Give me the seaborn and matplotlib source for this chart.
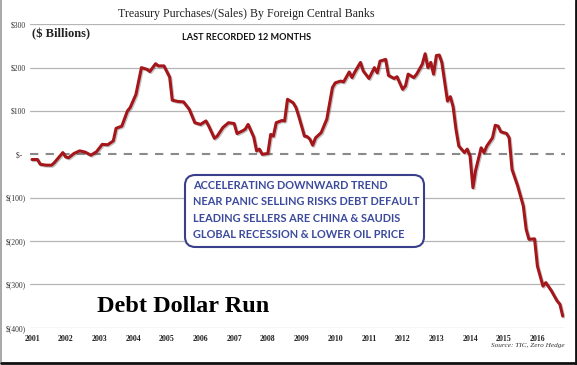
import matplotlib
matplotlib.use("Agg")
import matplotlib.pyplot as plt
import matplotlib.patheffects as pe
from matplotlib.patches import FancyBboxPatch
from matplotlib.lines import Line2D
import pandas as pd
import seaborn as sns

# ---- data ----
months = [
    "2001-01", "2001-03", "2001-04", "2001-06", "2001-08", "2001-09", "2001-12",
    "2002-01", "2002-02", "2002-04", "2002-06", "2002-08", "2002-10", "2002-12",
    "2003-02", "2003-04", "2003-06", "2003-07", "2003-09", "2003-11", "2003-12",
    "2004-02", "2004-04", "2004-06", "2004-07", "2004-09", "2004-10", "2004-12",
    "2005-02", "2005-03", "2005-05", "2005-07", "2005-09", "2005-11",
    "2006-01", "2006-03", "2006-04", "2006-06", "2006-07", "2006-09", "2006-11",
    "2007-01", "2007-02", "2007-04", "2007-05", "2007-06", "2007-08", "2007-09",
    "2007-10", "2007-11",
    "2008-01", "2008-02", "2008-03", "2008-04", "2008-06", "2008-07", "2008-08",
    "2008-10", "2008-11", "2008-12",
    "2009-02", "2009-03", "2009-04", "2009-05", "2009-06", "2009-08", "2009-10",
    "2009-12",
    "2010-01", "2010-03", "2010-04", "2010-06", "2010-07", "2010-08", "2010-10",
    "2010-11",
    "2011-01", "2011-03", "2011-04", "2011-05", "2011-07", "2011-08", "2011-10",
    "2011-11",
    "2012-01", "2012-02", "2012-03", "2012-05", "2012-06", "2012-08", "2012-09",
    "2012-10", "2012-11", "2012-12",
    "2013-01", "2013-02", "2013-03", "2013-05", "2013-06", "2013-07", "2013-08",
    "2013-09", "2013-11", "2013-12",
    "2014-01", "2014-02", "2014-03", "2014-05", "2014-06", "2014-07", "2014-09",
    "2014-10", "2014-11", "2014-12",
    "2015-02", "2015-03", "2015-04", "2015-06", "2015-08", "2015-09", "2015-10",
    "2015-12",
    "2016-01", "2016-03", "2016-04", "2016-06", "2016-08", "2016-09", "2016-10",
]
purchases = [
    -12, -12, -23, -25, -25, -19, 4,
    -6, -8, 2, 8, 5, -2, 6,
    23, 22, 31, 60, 65, 100, 108,
    138, 200, 196, 191, 209, 204, 204,
    178, 125, 122, 121, 104, 73,
    69, 77, 65, 37, 42, 62, 73,
    71, 48, 54, 58, 69, 40, 8,
    12, 0,
    2, 46, 42, 73, 78, 77, 127,
    119, 108, 88,
    42, 41, 35, 21, 38, 50, 81,
    154,
    165, 169, 167, 190, 177, 190, 212,
    192,
    175, 200, 188, 215, 219, 182, 175,
    179,
    150, 158, 185, 177, 185, 208, 232,
    200, 212, 185,
    228, 229, 212, 123, 133, 110, 58,
    19, 4, 12,
    -4, -77, -38, 15, 4, 19, 38,
    67, 65, 52,
    48, 38, -35, -73, -119, -173, -196,
    -195,
    -258, -304, -296, -315, -338, -346, -373,
]
year_labels = [str(y) for y in range(2001, 2017)]
y_ticks = [300, 200, 100, 0, -100, -200, -300, -400]
y_tick_labels = ["$300", "$200", "$100", "$-  ", "$(100)", "$(200)", "$(300)", "$(400)"]
box_lines = [
    "ACCELERATING DOWNWARD TREND",
    "NEAR PANIC SELLING RISKS DEBT DEFAULT",
    "LEADING SELLERS ARE CHINA & SAUDIS",
    "GLOBAL RECESSION & LOWER OIL PRICE",
]

df = pd.DataFrame({"date": pd.to_datetime(months), "value": purchases})

sns.set_style("white")
SERIF = ["Liberation Serif", "DejaVu Serif"]
NARROW = ["Lato", "DejaVu Sans"]
plt.rcParams["font.family"] = SERIF

W, H = 577, 365
fig = plt.figure(figsize=(W / 100, H / 100), dpi=100)
fig.patch.set_facecolor("white")


def fx(x):
    return x / W


def fy(y):
    return 1 - y / H


ax = fig.add_axes([fx(30), fy(327.7), fx(565) - fx(30), fy(24.3) - fy(327.7)])
ax.set_facecolor("white")

# grid lines
for v in y_ticks:
    if v == 0:
        ax.axhline(0, color="#8a8a8a", lw=1.5, ls=(0, (4, 3.5)), zorder=1)
    else:
        ax.axhline(v, color="#b5b5b5", lw=0.9, zorder=1)

sns.lineplot(data=df, x="date", y="value", ax=ax, color="#a5161b", lw=2.2,
             zorder=3, estimator=None,
             path_effects=[pe.SimpleLineShadow(offset=(0.8, -0.8), shadow_color="#555555", alpha=0.35),
                           pe.Normal()])

ax.set_ylim(-400, 300)
ax.set_xlim(pd.Timestamp("2000-12-10"), pd.Timestamp("2016-10-26"))
ax.set_yticks(y_ticks)
ax.set_yticklabels(y_tick_labels, fontsize=5.5, color="#333333")
ax.set_xticks([pd.Timestamp(f"{y}-01-01") for y in range(2001, 2017)])
ax.set_xticklabels(year_labels, fontsize=5.7, fontweight="bold", color="#222222")
ax.tick_params(axis="both", length=0, pad=3)
ax.tick_params(axis="x", pad=5)
ax.set_xlabel("")
ax.set_ylabel("")
for s in ax.spines.values():
    s.set_visible(False)

# text box
box = FancyBboxPatch((fx(185), fy(247)), fx(424) - fx(185), fy(175) - fy(247),
                     boxstyle="round,pad=0,rounding_size=0.018",
                     transform=fig.transFigure, fc="white", ec="#3a3f8c", lw=1.5,
                     zorder=5, mutation_aspect=W / H)
fig.add_artist(box)
for i, (txt, yy) in enumerate(zip(box_lines, [185.5, 202, 218, 234])):
    fig.text(fx(193), fy(yy), txt, family=NARROW, fontsize=7.9, fontweight="bold",
             color="#3b4a9c", va="center", ha="left", zorder=6)

# titles and annotations
fig.text(fx(246), fy(14), "Treasury Purchases/(Sales) By Foreign Central Banks",
         fontsize=8.6, ha="center", va="center", color="#222222")
fig.text(fx(32), fy(34), "($ Billions)", fontsize=9, fontweight="bold",
         ha="left", va="center", color="#222222")
fig.text(fx(246.5), fy(38), "LAST RECORDED 12 MONTHS", family=NARROW, fontsize=6.6,
         fontweight="bold", ha="center", va="center", color="#111111")
fig.text(fx(97), fy(306), "Debt Dollar Run", fontsize=17.5, fontweight="bold",
         ha="left", va="center", color="black")
fig.text(fx(565), fy(346), "Source: TIC, Zero Hedge", fontsize=5.2, style="italic",
         ha="right", va="center", color="#333333")

# outer frame
fig.add_artist(Line2D([fx(1), fx(1)], [fy(0), fy(362)], transform=fig.transFigure,
                      color="#9a9a9a", lw=1.2))
fig.add_artist(Line2D([fx(1), fx(575.5)], [fy(362.5), fy(362.5)], transform=fig.transFigure,
                      color="#111111", lw=2))
fig.add_artist(Line2D([fx(575.5), fx(575.5)], [fy(0), fy(362.5)], transform=fig.transFigure,
                      color="#111111", lw=2))

fig.savefig("out.png", dpi=100)
